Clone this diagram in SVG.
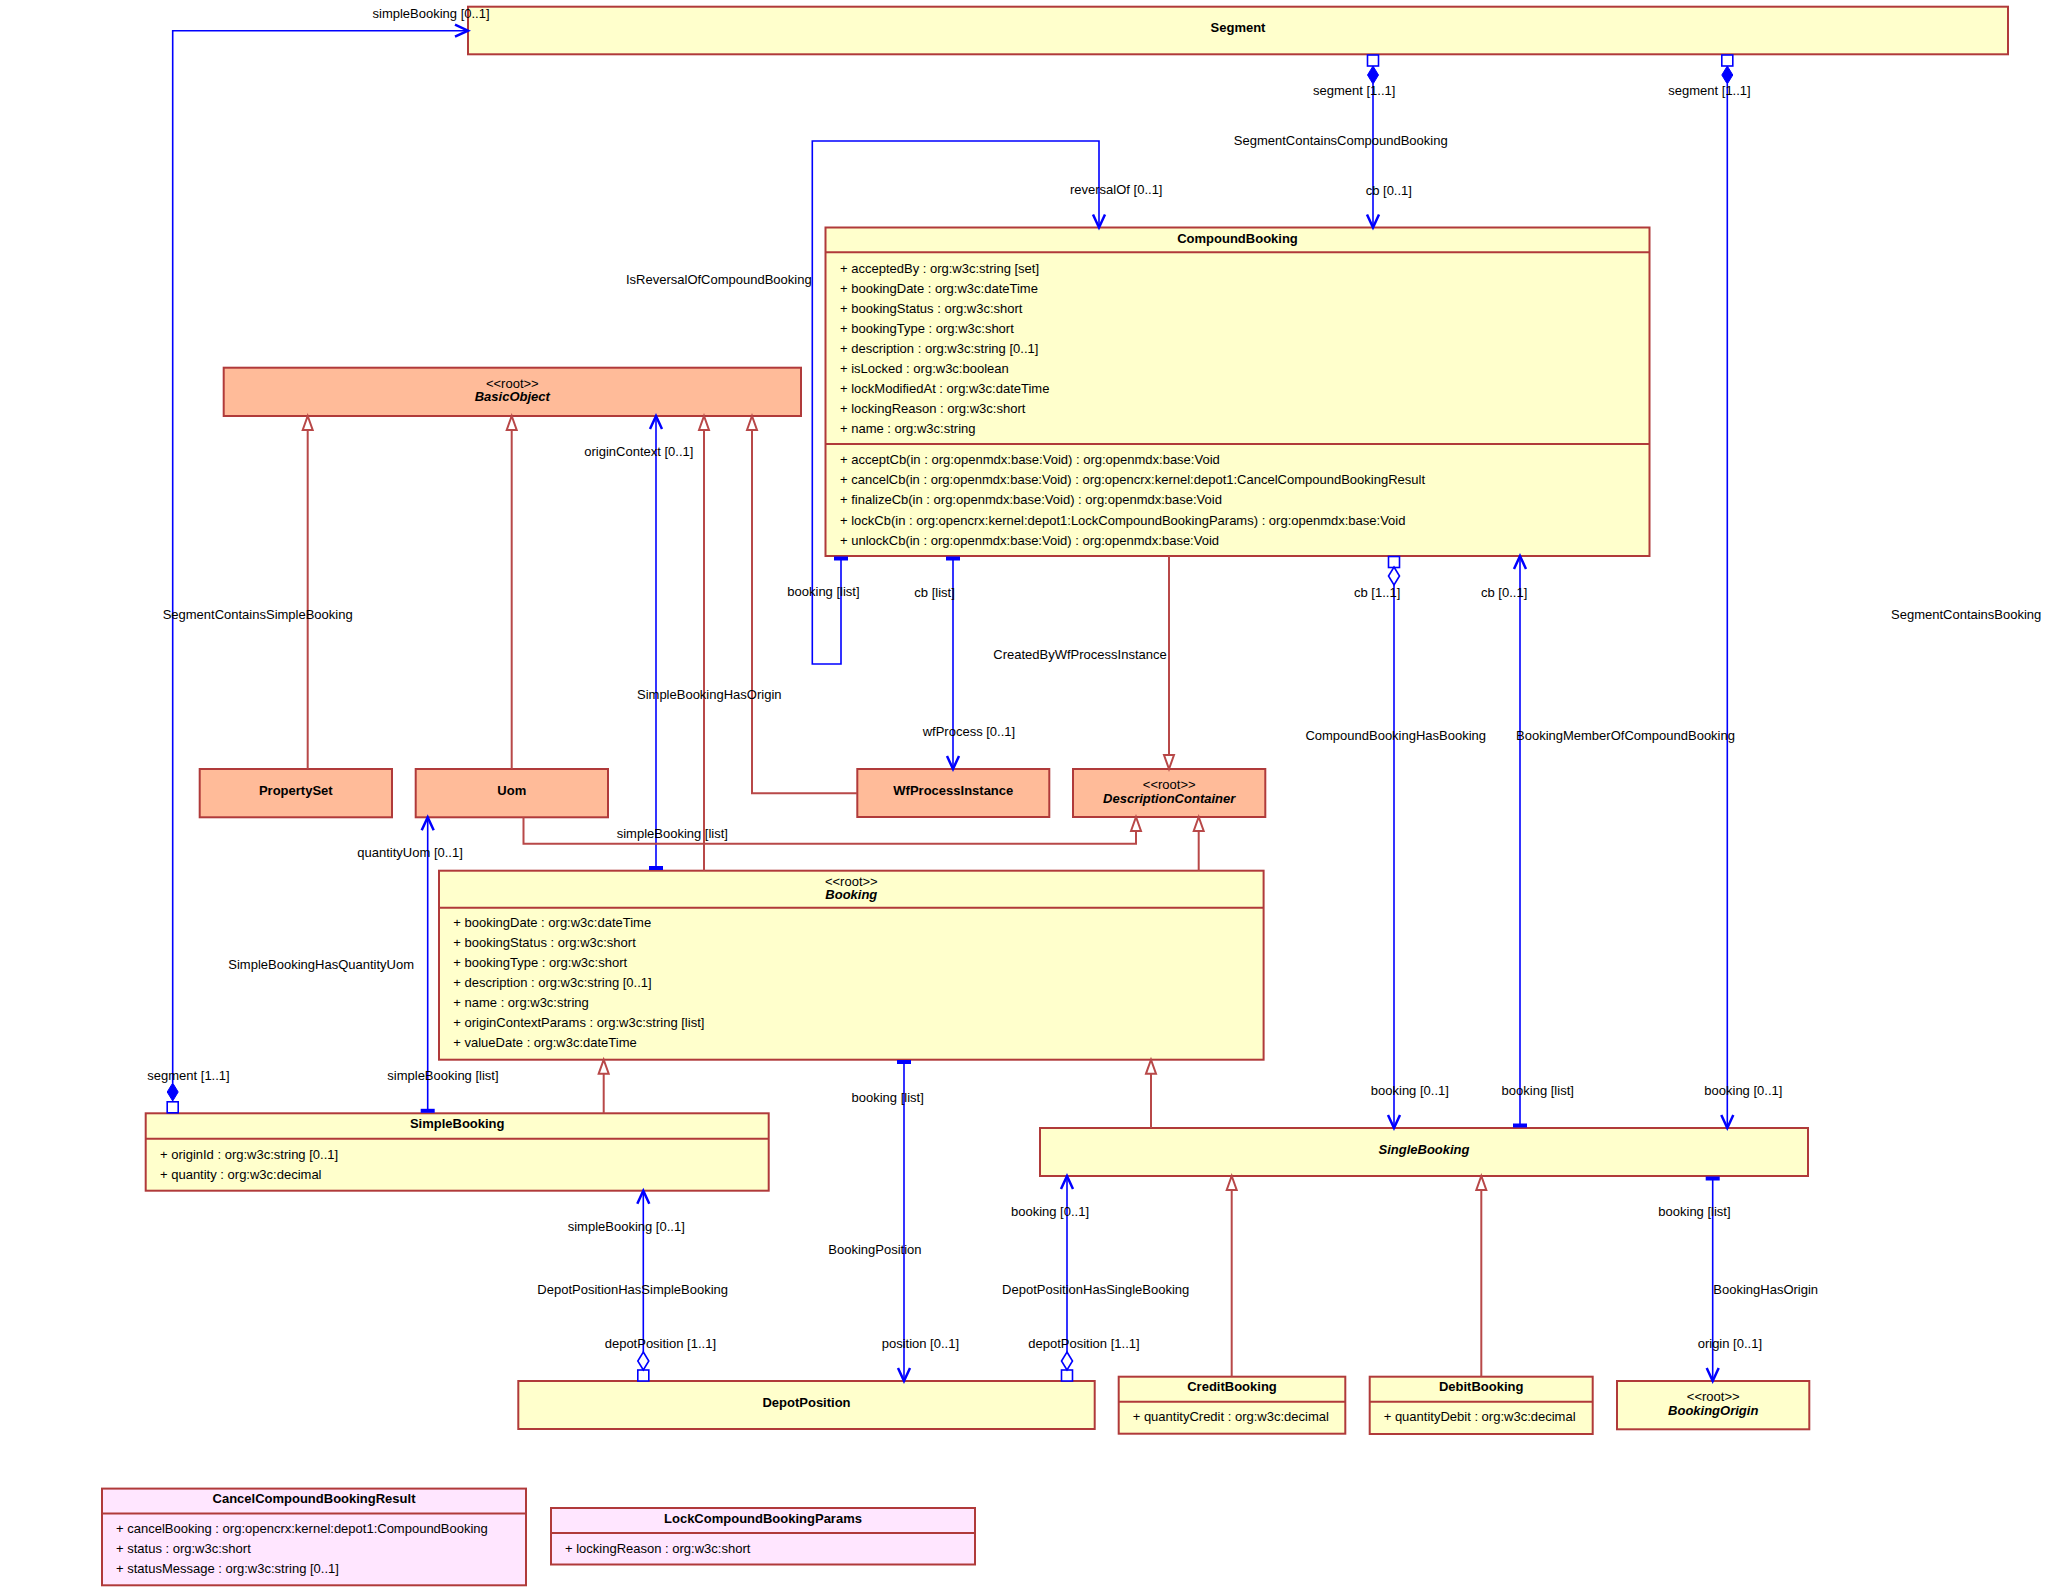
<svg xmlns="http://www.w3.org/2000/svg" xmlns:xlink="http://www.w3.org/1999/xlink" width="2047" height="1589" viewBox="0 0 2047 1589">
<style>
.box{stroke:#B03A3A;stroke-width:2}
.y{fill:#FFFFCC}.s{fill:#FFBB99}.p{fill:#FFE6FF}
.sep{stroke:#B03A3A;stroke-width:2}
text{font-family:"Liberation Sans",Arial,sans-serif;font-size:13px;fill:#000}
.b{font-weight:bold}.i{font-style:italic}.c{text-anchor:middle}.e{text-anchor:end}
.assoc{fill:none;stroke:#0000FF;stroke-width:1.6;marker-end:url(#open)}
.gen{fill:none;stroke:#B84848;stroke-width:2;marker-end:url(#tri)}
.bar{fill:#0000FF}
.sq{fill:#fff;stroke:#0000FF;stroke-width:1.6}
.fd{fill:#0000FF;stroke:#0000FF;stroke-width:1}
.od{fill:#fff;stroke:#0000FF;stroke-width:1.6}
</style>
<defs>
<marker id="open" markerUnits="userSpaceOnUse" viewBox="-16 -10 20 20" markerWidth="20" markerHeight="20" refX="0" refY="0" orient="auto" overflow="visible">
<path d="M-13,-6 L0,0 L-13,6" fill="none" stroke="#0000FF" stroke-width="2.5"/>
</marker>
<marker id="tri" markerUnits="userSpaceOnUse" viewBox="-16 -10 20 20" markerWidth="20" markerHeight="20" refX="0" refY="0" orient="auto" overflow="visible">
<path d="M-14,-5 L0,0 L-14,5 Z" fill="#fff" stroke="#B84848" stroke-width="2"/>
</marker>
<rect id="bar" x="-7" y="-2" width="14" height="4"/>
<rect id="sq" x="-5.5" y="-5.5" width="11" height="11"/>
<path id="dia" d="M0,-9 L5.5,0 L0,9 L-5.5,0 Z"/>
</defs>
<rect width="2047" height="1589" fill="#fff"/>

<g id="Segment">
<rect class="box y" x="468" y="6.7" width="1540" height="47.6"/>
<text x="1238" y="32" class="b c">Segment</text>
</g>

<g id="CompoundBooking">
<rect class="box y" x="825.5" y="227.5" width="824" height="328.5"/>
<line class="sep" x1="825.5" y1="252.3" x2="1649.5" y2="252.3"/>
<line class="sep" x1="825.5" y1="444" x2="1649.5" y2="444"/>
<text x="1237.5" y="242.5" class="b c">CompoundBooking</text>
<text x="840" y="272.5">+ acceptedBy : org:w3c:string [set]</text>
<text x="840" y="292.5">+ bookingDate : org:w3c:dateTime</text>
<text x="840" y="312.5">+ bookingStatus : org:w3c:short</text>
<text x="840" y="332.5">+ bookingType : org:w3c:short</text>
<text x="840" y="352.5">+ description : org:w3c:string [0..1]</text>
<text x="840" y="372.5">+ isLocked : org:w3c:boolean</text>
<text x="840" y="392.5">+ lockModifiedAt : org:w3c:dateTime</text>
<text x="840" y="412.5">+ lockingReason : org:w3c:short</text>
<text x="840" y="432.5">+ name : org:w3c:string</text>
<text x="840" y="464">+ acceptCb(in : org:openmdx:base:Void) : org:openmdx:base:Void</text>
<text x="840" y="484.2">+ cancelCb(in : org:openmdx:base:Void) : org:opencrx:kernel:depot1:CancelCompoundBookingResult</text>
<text x="840" y="504.4">+ finalizeCb(in : org:openmdx:base:Void) : org:openmdx:base:Void</text>
<text x="840" y="524.6">+ lockCb(in : org:opencrx:kernel:depot1:LockCompoundBookingParams) : org:openmdx:base:Void</text>
<text x="840" y="544.8">+ unlockCb(in : org:openmdx:base:Void) : org:openmdx:base:Void</text>
</g>

<g id="BasicObject">
<rect class="box s" x="223.7" y="367.7" width="577.3" height="48.3"/>
<text x="512.3" y="387.5" class="c">&lt;&lt;root&gt;&gt;</text>
<text x="512.3" y="401" class="b i c">BasicObject</text>
</g>

<g id="PropertySet">
<rect class="box s" x="199.7" y="769" width="192.3" height="48.3"/>
<text x="295.8" y="795" class="b c">PropertySet</text>
</g>

<g id="Uom">
<rect class="box s" x="415.7" y="769" width="192.3" height="48.3"/>
<text x="511.8" y="795" class="b c">Uom</text>
</g>

<g id="WfProcessInstance">
<rect class="box s" x="857.3" y="769" width="192" height="48"/>
<text x="953.3" y="795" class="b c">WfProcessInstance</text>
</g>

<g id="DescriptionContainer">
<rect class="box s" x="1073" y="769" width="192.3" height="48"/>
<text x="1169.2" y="788.7" class="c">&lt;&lt;root&gt;&gt;</text>
<text x="1169.2" y="803" class="b i c">DescriptionContainer</text>
</g>

<g id="Booking">
<rect class="box y" x="439" y="870.7" width="824.6" height="189"/>
<line class="sep" x1="439" y1="907.7" x2="1263.6" y2="907.7"/>
<text x="851.3" y="885.5" class="c">&lt;&lt;root&gt;&gt;</text>
<text x="851.3" y="899" class="b i c">Booking</text>
<text x="453.3" y="927.2">+ bookingDate : org:w3c:dateTime</text>
<text x="453.3" y="947.2">+ bookingStatus : org:w3c:short</text>
<text x="453.3" y="967.2">+ bookingType : org:w3c:short</text>
<text x="453.3" y="987.2">+ description : org:w3c:string [0..1]</text>
<text x="453.3" y="1007.2">+ name : org:w3c:string</text>
<text x="453.3" y="1027.2">+ originContextParams : org:w3c:string [list]</text>
<text x="453.3" y="1047.4">+ valueDate : org:w3c:dateTime</text>
</g>

<g id="SimpleBooking">
<rect class="box y" x="145.7" y="1113.3" width="623" height="77.4"/>
<line class="sep" x1="145.7" y1="1138.7" x2="768.7" y2="1138.7"/>
<text x="457.2" y="1128" class="b c">SimpleBooking</text>
<text x="160" y="1159.2">+ originId : org:w3c:string [0..1]</text>
<text x="160" y="1179.2">+ quantity : org:w3c:decimal</text>
</g>

<g id="SingleBooking">
<rect class="box y" x="1040" y="1128" width="768" height="48"/>
<text x="1424" y="1154" class="b i c">SingleBooking</text>
</g>

<g id="DepotPosition">
<rect class="box y" x="518.3" y="1381" width="576.4" height="48"/>
<text x="806.5" y="1406.5" class="b c">DepotPosition</text>
</g>

<g id="CreditBooking">
<rect class="box y" x="1118.7" y="1376.7" width="226.6" height="57"/>
<line class="sep" x1="1118.7" y1="1401.7" x2="1345.3" y2="1401.7"/>
<text x="1232" y="1391.3" class="b c">CreditBooking</text>
<text x="1132.7" y="1421.2">+ quantityCredit : org:w3c:decimal</text>
</g>

<g id="DebitBooking">
<rect class="box y" x="1369.7" y="1376.7" width="223" height="57.3"/>
<line class="sep" x1="1369.7" y1="1401.7" x2="1592.7" y2="1401.7"/>
<text x="1481.2" y="1391.3" class="b c">DebitBooking</text>
<text x="1383.7" y="1421.2">+ quantityDebit : org:w3c:decimal</text>
</g>

<g id="BookingOrigin">
<rect class="box y" x="1617" y="1381" width="192.3" height="48.3"/>
<text x="1713.2" y="1400.5" class="c">&lt;&lt;root&gt;&gt;</text>
<text x="1713.2" y="1414.5" class="b i c">BookingOrigin</text>
</g>

<g id="CancelCompoundBookingResult">
<rect class="box p" x="102" y="1488.6" width="424" height="96.7"/>
<line class="sep" x1="102" y1="1513.6" x2="526" y2="1513.6"/>
<text x="314" y="1503.3" class="b c">CancelCompoundBookingResult</text>
<text x="116" y="1533">+ cancelBooking : org:opencrx:kernel:depot1:CompoundBooking</text>
<text x="116" y="1553">+ status : org:w3c:short</text>
<text x="116" y="1573">+ statusMessage : org:w3c:string [0..1]</text>
</g>

<g id="LockCompoundBookingParams">
<rect class="box p" x="551" y="1508" width="424" height="56.5"/>
<line class="sep" x1="551" y1="1533" x2="975" y2="1533"/>
<text x="763" y="1522.7" class="b c">LockCompoundBookingParams</text>
<text x="565" y="1552.5">+ lockingReason : org:w3c:short</text>
</g>

<g id="connectors">
<!-- associations -->
<path class="assoc" d="M172.7,1083 V30.7 H468"/>
<path class="assoc" d="M1373,84 V227.5"/>
<path class="assoc" d="M1727.3,84 V1128"/>
<path class="assoc" d="M841,560 V664 H812.3 V141 H1099 V227.5"/>
<path class="assoc" d="M953,560 V769"/>
<path class="assoc" d="M1394,585 V1128"/>
<path class="assoc" d="M1520,1124 V556"/>
<path class="assoc" d="M656,866 V416"/>
<path class="assoc" d="M427.7,1109 V817.3"/>
<path class="assoc" d="M904,1063 V1381"/>
<path class="assoc" d="M643.3,1352 V1190.7"/>
<path class="assoc" d="M1067,1352 V1176"/>
<path class="assoc" d="M1712.7,1180 V1381"/>
<!-- end decorations -->
<use href="#sq" class="sq" x="172.7" y="1107.3"/>
<use href="#dia" class="fd" x="172.7" y="1092"/>
<use href="#sq" class="sq" x="1373" y="60.5"/>
<use href="#dia" class="fd" x="1373" y="75"/>
<use href="#sq" class="sq" x="1727.3" y="60.5"/>
<use href="#dia" class="fd" x="1727.3" y="75"/>
<use href="#sq" class="sq" x="1394" y="562"/>
<use href="#dia" class="od" x="1394" y="576"/>
<use href="#sq" class="sq" x="643.3" y="1375.5"/>
<use href="#dia" class="od" x="643.3" y="1361"/>
<use href="#sq" class="sq" x="1067" y="1375.5"/>
<use href="#dia" class="od" x="1067" y="1361"/>
<use href="#bar" class="bar" x="841" y="558.5"/>
<use href="#bar" class="bar" x="953" y="558.5"/>
<use href="#bar" class="bar" x="1520" y="1125.5"/>
<use href="#bar" class="bar" x="1712.7" y="1178.5"/>
<use href="#bar" class="bar" x="656" y="868"/>
<use href="#bar" class="bar" x="904" y="1062"/>
<use href="#bar" class="bar" x="427.7" y="1110.8"/>
<!-- generalizations -->
<path class="gen" d="M307.7,769 V416"/>
<path class="gen" d="M511.7,769 V416"/>
<path class="gen" d="M704,870.7 V416"/>
<path class="gen" d="M857.3,793.3 H752 V416"/>
<path class="gen" d="M1169,556 V769"/>
<path class="gen" d="M523.5,817.3 V843.7 H1136 V817"/>
<path class="gen" d="M1198.7,870.7 V817"/>
<path class="gen" d="M603.7,1113.3 V1059.7"/>
<path class="gen" d="M1151,1128 V1059.7"/>
<path class="gen" d="M1231.7,1376.7 V1176"/>
<path class="gen" d="M1481.3,1376.7 V1176"/>
<!-- labels -->
<text x="372.5" y="17.5">simpleBooking [0..1]</text>
<text x="147.3" y="1080">segment [1..1]</text>
<text x="352.7" y="619" class="e">SegmentContainsSimpleBooking</text>
<text x="1313" y="95">segment [1..1]</text>
<text x="1447.7" y="145" class="e">SegmentContainsCompoundBooking</text>
<text x="1365.7" y="194.5">cb [0..1]</text>
<text x="1668.3" y="95">segment [1..1]</text>
<text x="1891" y="619">SegmentContainsBooking</text>
<text x="1070" y="194">reversalOf [0..1]</text>
<text x="811.7" y="284" class="e">IsReversalOfCompoundBooking</text>
<text x="787.3" y="596">booking [list]</text>
<text x="914.3" y="597">cb [list]</text>
<text x="993.3" y="659">CreatedByWfProcessInstance</text>
<text x="922.7" y="736">wfProcess [0..1]</text>
<text x="1354" y="597">cb [1..1]</text>
<text x="1481" y="597">cb [0..1]</text>
<text x="1305.4" y="740">CompoundBookingHasBooking</text>
<text x="1516" y="740">BookingMemberOfCompoundBooking</text>
<text x="1370.8" y="1095">booking [0..1]</text>
<text x="1501.6" y="1095">booking [list]</text>
<text x="1704.3" y="1095">booking [0..1]</text>
<text x="584.3" y="456">originContext [0..1]</text>
<text x="637" y="698.5">SimpleBookingHasOrigin</text>
<text x="616.7" y="838">simpleBooking [list]</text>
<text x="357.3" y="857">quantityUom [0..1]</text>
<text x="228.3" y="968.5">SimpleBookingHasQuantityUom</text>
<text x="387.3" y="1080">simpleBooking [list]</text>
<text x="851.5" y="1102">booking [list]</text>
<text x="828.3" y="1254">BookingPosition</text>
<text x="881.7" y="1348">position [0..1]</text>
<text x="567.7" y="1231">simpleBooking [0..1]</text>
<text x="537.3" y="1294">DepotPositionHasSimpleBooking</text>
<text x="604.7" y="1348">depotPosition [1..1]</text>
<text x="1089" y="1216" class="e">booking [0..1]</text>
<text x="1189.3" y="1294" class="e">DepotPositionHasSingleBooking</text>
<text x="1028.3" y="1348">depotPosition [1..1]</text>
<text x="1658.3" y="1216">booking [list]</text>
<text x="1713.3" y="1294">BookingHasOrigin</text>
<text x="1697.7" y="1348">origin [0..1]</text>
</g>
</svg>
